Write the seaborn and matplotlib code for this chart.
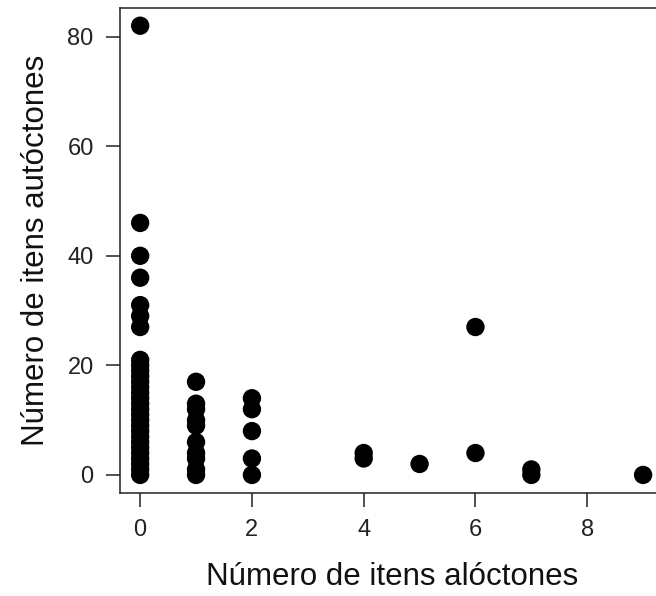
import matplotlib
matplotlib.use("Agg")
import matplotlib.pyplot as plt
import seaborn as sns
import pandas as pd

# itens alóctones (x) e autóctones (y) por amostra
aloctones = [0] * 29 + [1] * 10 + [2] * 5 + [4, 4, 5, 6, 6, 7, 7, 9]
autoctones = (
    [82, 46, 40, 36, 31, 29, 27] + list(range(21, -1, -1))
    + [17, 13, 12, 10, 9, 6, 4, 3, 1, 0]
    + [14, 12, 8, 3, 0]
    + [4, 3, 2, 27, 4, 1, 0, 0]
)
x_ticks = [0, 2, 4, 6, 8]
y_ticks = [0, 20, 40, 60, 80]

df = pd.DataFrame({"aloctones": aloctones, "autoctones": autoctones})

sns.set_style("ticks")
plt.rcParams['font.family'] = ['Liberation Sans', 'DejaVu Sans']

fig = plt.figure(figsize=(6.56, 5.96), dpi=100)
ax = fig.add_axes([0.183, 0.173, 0.828, 0.814])

sns.scatterplot(data=df, x="aloctones", y="autoctones", color="black",
                s=175, edgecolor="none", linewidth=0, ax=ax, clip_on=False)

# limites no estilo do R (4% de margem)
ax.set_xlim(-0.36, 9.36)
ax.set_ylim(-3.28, 85.28)
ax.set_xticks(x_ticks)
ax.set_yticks(y_ticks)
ax.tick_params(direction="out", length=10, width=1.1, labelsize=17,
               color="#222222", labelcolor="#222222", pad=9)

for sp in ax.spines.values():
    sp.set_linewidth(1.1)
    sp.set_color("#222222")

ax.set_xlabel("Número de itens alóctones", fontsize=22.5, color="#111111", labelpad=15)
ax.set_ylabel("Número de itens autóctones", fontsize=22.5, color="#111111", labelpad=12)

fig.savefig("out.png", dpi=100)
